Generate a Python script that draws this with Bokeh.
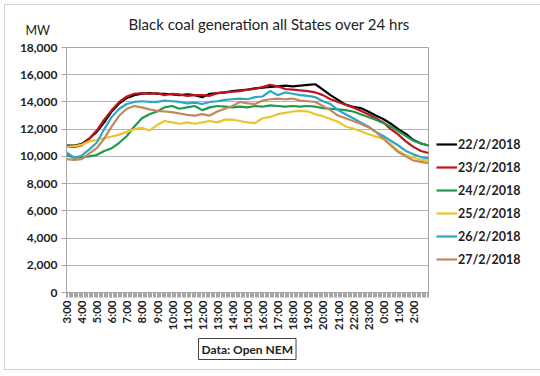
from bokeh.plotting import figure
from bokeh.models import (Range1d, FixedTicker, NumeralTickFormatter, Legend, LegendItem, Title)
from bokeh.embed import file_html
from bokeh.resources import INLINE

# ---- data (half-hourly readings, 3:00 -> 3:00 next day) ----
TIMES = ["3:00", "3:30", "4:00", "4:30", "5:00", "5:30", "6:00", "6:30", "7:00", "7:30",
         "8:00", "8:30", "9:00", "9:30", "10:00", "10:30", "11:00", "11:30", "12:00", "12:30",
         "13:00", "13:30", "14:00", "14:30", "15:00", "15:30", "16:00", "16:30", "17:00", "17:30",
         "18:00", "18:30", "19:00", "19:30", "20:00", "20:30", "21:00", "21:30", "22:00", "22:30",
         "23:00", "23:30", "0:00", "0:30", "1:00", "1:30", "2:00", "2:30", "3:00"]

TICK_LABELS = ["3:00", "4:00", "5:00", "6:00", "7:00", "8:00", "9:00", "10:00", "11:00", "12:00",
               "13:00", "14:00", "15:00", "16:00", "17:00", "18:00", "19:00", "20:00", "21:00",
               "22:00", "23:00", "0:00", "1:00", "2:00"]

SERIES_NAMES = ["22/2/2018", "23/2/2018", "24/2/2018", "25/2/2018", "26/2/2018", "27/2/2018"]
SERIES_COLORS = ["#000000", "#c0141e", "#1f9a4a", "#ecc42e", "#2ea6c8", "#c2875a"]

d22 = [10800, 10800, 10900, 11300, 11800, 12500, 13300, 13900, 14300, 14500,
       14600, 14650, 14600, 14600, 14550, 14500, 14550, 14500, 14350, 14600,
       14650, 14700, 14800, 14850, 14900, 15000, 15050, 15100, 15150, 15200,
       15150, 15200, 15250, 15300, 14900, 14500, 14150, 13800, 13650, 13550,
       13300, 13000, 12750, 12400, 12000, 11650, 11200, 10950, 10800]
d23 = [10700, 10700, 10800, 11300, 11900, 12700, 13400, 14000, 14400, 14600,
       14650, 14600, 14650, 14500, 14600, 14550, 14450, 14500, 14500, 14450,
       14650, 14700, 14750, 14800, 14900, 14950, 15100, 15250, 15150, 14950,
       14900, 14850, 14800, 14700, 14500, 14200, 14000, 13800, 13600, 13350,
       13100, 12800, 12500, 12000, 11600, 11100, 10700, 10400, 10250]
d24 = [10100, 9900, 9950, 10000, 10100, 10400, 10600, 11000, 11500, 12200,
       12800, 13100, 13300, 13600, 13700, 13500, 13600, 13700, 13400, 13600,
       13700, 13650, 13600, 13650, 13600, 13700, 13650, 13750, 13700, 13650,
       13700, 13650, 13700, 13650, 13550, 13500, 13450, 13400, 13300, 13100,
       12900, 12700, 12450, 12200, 11850, 11500, 11150, 10950, 10800]
d25 = [10700, 10750, 10850, 11100, 11200, 11350, 11450, 11600, 11800, 12000,
       12100, 11900, 12300, 12600, 12500, 12400, 12500, 12400, 12500, 12600,
       12500, 12700, 12700, 12600, 12500, 12450, 12800, 12900, 13100, 13200,
       13300, 13350, 13300, 13100, 12950, 12750, 12550, 12200, 12050, 11850,
       11650, 11450, 11300, 10900, 10400, 10100, 9900, 9750, 9700]
d26 = [10300, 9900, 10050, 10500, 11000, 12000, 12900, 13500, 13850, 14000,
       14050, 14000, 14000, 14100, 14050, 14000, 13900, 13950, 13850, 14000,
       14050, 14150, 14200, 14250, 14200, 14350, 14400, 14800, 14500, 14700,
       14600, 14500, 14450, 14350, 14050, 13850, 13400, 13100, 12800, 12500,
       12200, 11800, 11500, 11150, 10800, 10400, 10150, 9950, 9850]
d27 = [9800, 9750, 9800, 10200, 10600, 11300, 12200, 13000, 13500, 13700,
       13600, 13450, 13350, 13300, 13250, 13150, 13050, 13000, 13100, 13000,
       13300, 13500, 13700, 14000, 13900, 13850, 14100, 14200, 14250, 14200,
       14250, 14100, 14050, 14000, 13700, 13400, 13000, 12800, 12600, 12400,
       12150, 11800, 11300, 10800, 10300, 10000, 9700, 9600, 9500]
SERIES_VALUES = [d22, d23, d24, d25, d26, d27]

Y_TICKS = [0, 2000, 4000, 6000, 8000, 10000, 12000, 14000, 16000, 18000]


def hours_since_start(times):
    out, day, prev = [], 0, None
    start = int(times[0].split(":")[0]) * 60
    for t in times:
        h, m = t.split(":")
        mins = int(h) * 60 + int(m)
        if prev is not None and mins <= prev:
            day += 1
        prev = mins
        out.append((mins + day * 1440 - start) / 60.0)
    return out


x = hours_since_start(TIMES)
tick_pos = hours_since_start(TICK_LABELS)

FONT = "Lato"
TXT = "#222222"

p = figure(frame_width=362, frame_height=245, output_backend="svg", toolbar_location=None,
           x_range=Range1d(0, 24), y_range=Range1d(0, 18000),
           min_border_left=66, min_border_top=47, min_border_right=110, min_border_bottom=82)
p.background_fill_color = "white"
p.border_fill_color = "white"
p.border_fill_alpha = 0
p.outline_line_color = "#a6a6a6"
p.outline_line_width = 1
p.styles = {"background-color": "white",
            "box-shadow": "inset 0 0 0 4px #ffffff, inset 0 0 0 5px #d0d0d0"}

# "MW" unit label (row closest to the frame)
p.add_layout(Title(text="MW", align="left", offset=-41, standoff=19.5,
                   text_font=FONT, text_font_style="normal", text_font_size="12.5px",
                   text_color=TXT), "above")

# main title (outer row)
p.title.text = "Black coal generation all States over 24 hrs"
p.title.align = "left"
p.title.offset = 62
p.title.standoff = -44
p.title.text_font = FONT
p.title.text_font_style = "normal"
p.title.text_font_size = "15px"
p.title.text_color = TXT

# source note below the axis
p.add_layout(Title(text="Data: Open NEM", align="left", offset=132, standoff=6,
                   text_font=FONT, text_font_style="bold", text_font_size="12px",
                   text_color=TXT, border_line_color="#444444", border_line_width=1,
                   background_fill_color="white", padding=3), "below")

# axes
p.xaxis.ticker = FixedTicker(ticks=tick_pos, minor_ticks=[i / 12 for i in range(0, 24 * 12 + 1)])
p.xaxis.major_label_overrides = {tp: lab for tp, lab in zip(tick_pos, TICK_LABELS)}
p.xaxis.major_label_orientation = 1.5708
p.xaxis.major_label_text_font = FONT
p.xaxis.major_label_text_font_style = "bold"
p.xaxis.major_label_text_font_size = "11.5px"
p.xaxis.major_label_text_color = TXT
p.xaxis.major_tick_out = 5
p.xaxis.major_tick_in = 0
p.xaxis.minor_tick_out = 5
p.xaxis.minor_tick_in = 0
p.xaxis.major_tick_line_color = "#a6a6a6"
p.xaxis.minor_tick_line_color = "#a6a6a6"
p.xaxis.axis_line_color = "#a6a6a6"
p.xaxis.major_label_standoff = 3

p.yaxis.ticker = FixedTicker(ticks=Y_TICKS)
p.yaxis.formatter = NumeralTickFormatter(format="0,0")
p.yaxis.major_label_text_font = FONT
p.yaxis.major_label_text_font_style = "bold"
p.yaxis.major_label_text_font_size = "12px"
p.yaxis.major_label_text_color = TXT
p.yaxis.major_tick_out = 5
p.yaxis.major_tick_in = 0
p.yaxis.minor_tick_line_color = None
p.yaxis.major_tick_line_color = "#a6a6a6"
p.yaxis.axis_line_color = "#a6a6a6"
p.yaxis.major_label_standoff = 4

p.xgrid.grid_line_color = None
p.ygrid.grid_line_color = "#b4b4b4"
p.ygrid.grid_line_width = 1

items = []
for name, col, vals in zip(SERIES_NAMES, SERIES_COLORS, SERIES_VALUES):
    r = p.line(x, vals, line_color=col, line_width=2.2)
    items.append(LegendItem(label=name, renderers=[r]))

legend = Legend(items=items, location=(8, 23), padding=0, margin=0, spacing=3,
                glyph_width=21, glyph_height=20, label_height=20, label_standoff=1,
                label_text_font=FONT, label_text_font_style="bold",
                label_text_font_size="12.5px", label_text_color=TXT,
                border_line_alpha=0, background_fill_alpha=0)
p.add_layout(legend, "right")

open("out.html", "w").write(file_html(p, INLINE))
